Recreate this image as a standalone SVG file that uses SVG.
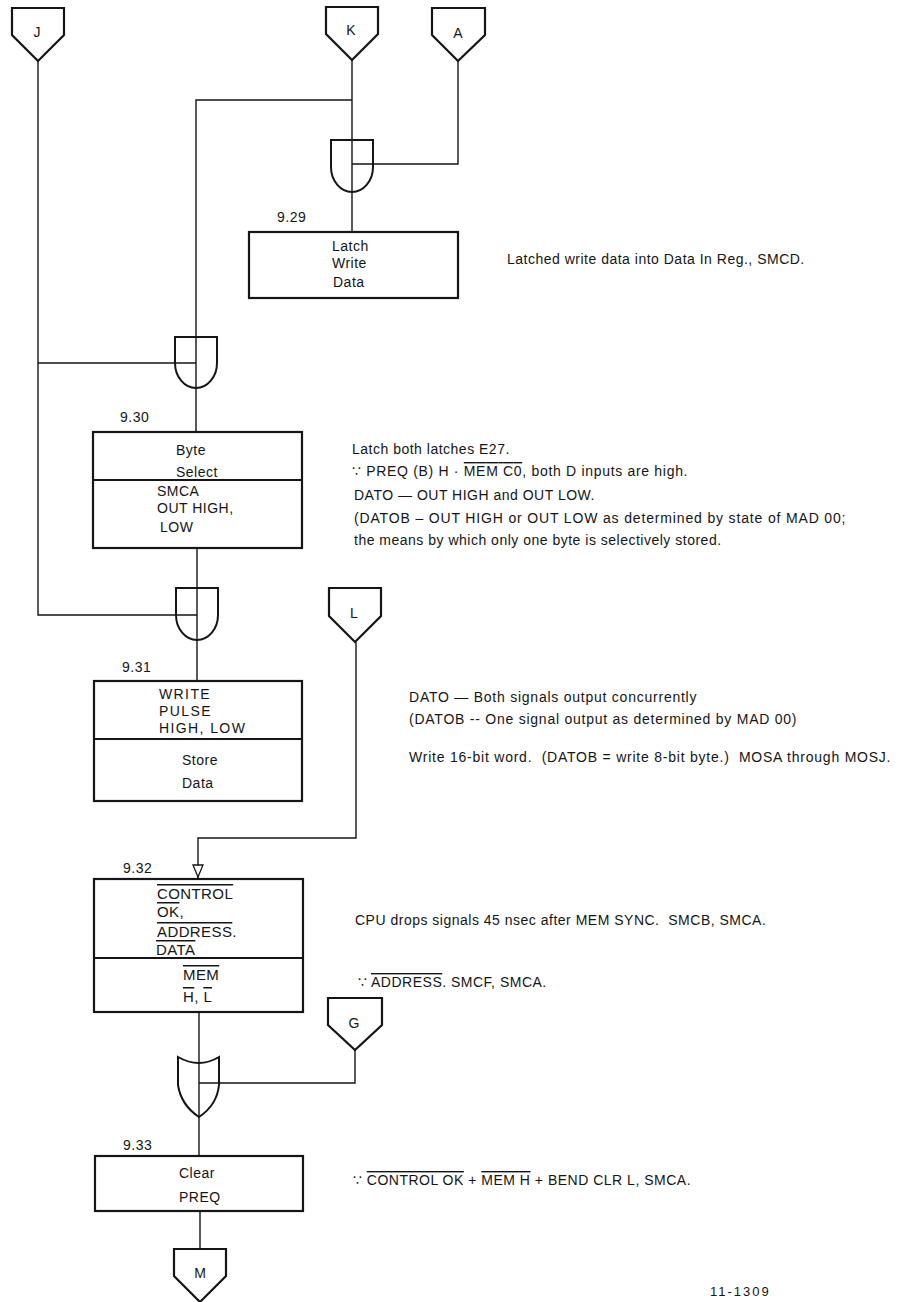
<svg xmlns="http://www.w3.org/2000/svg" width="906" height="1302" viewBox="0 0 906 1302">
<style>
.bg{fill:#ffffff}
.box{fill:#ffffff;stroke:#151515;stroke-width:2.2}
.div{stroke:#151515;stroke-width:2}
.off{fill:#ffffff;stroke:#151515;stroke-width:2.2;stroke-linejoin:miter}
.gate{fill:#ffffff;stroke:#151515;stroke-width:2}
.wire{fill:none;stroke:#151515;stroke-width:1.4}
.arr{fill:#ffffff;stroke:#151515;stroke-width:1.3}
text{font-family:"Liberation Sans",Arial,"DejaVu Sans",sans-serif;fill:#151515}
.lbl{font-size:14px;text-anchor:middle}
.num{font-size:14px;letter-spacing:0.5px}
.bt{font-size:14px;letter-spacing:0.5px}
.bw{font-size:14px;letter-spacing:1.4px}
.b32{font-size:15px;letter-spacing:0.4px}
.note{font-size:14px;letter-spacing:0.5px}
.ov{text-decoration:overline}
.id{font-size:13px;letter-spacing:2px}
</style>
<rect class="bg" x="0" y="0" width="906" height="1302"/>

<g id="nodes">
  <g id="conn-J">
    <polygon class="off" points="12,8 64,8 64,35 38,61 12,35"/>
    <text class="lbl" x="37" y="37">J</text>
  </g>
  <g id="conn-K">
    <polygon class="off" points="326,7 378,7 378,34 352,60 326,34"/>
    <text class="lbl" x="351" y="35">K</text>
  </g>
  <g id="conn-A">
    <polygon class="off" points="432,8 485,8 485,35 458,61 432,35"/>
    <text class="lbl" x="458" y="38">A</text>
  </g>

  <g id="gate-1">
    <path class="gate" d="M331,140 H373 V167 A21,25 0 0 1 331,167 Z"/>
  </g>

  <g id="step-9-29">
    <text class="num" x="277" y="222">9.29</text>
    <rect class="box" x="249" y="232" width="209" height="66"/>
    <text class="bt" x="332" y="251">Latch</text>
    <text class="bt" x="332" y="268">Write</text>
    <text class="bt" x="333" y="287">Data</text>
  </g>

  <g id="gate-2">
    <path class="gate" d="M175,337 H217 V363 A21,25 0 0 1 175,363 Z"/>
  </g>

  <g id="step-9-30">
    <text class="num" x="120" y="422">9.30</text>
    <rect class="box" x="93" y="432" width="209" height="116"/>
    <line class="div" x1="93" y1="480" x2="302" y2="480"/>
    <text class="bt" x="176" y="455">Byte</text>
    <text class="bt" x="176" y="477">Select</text>
    <text class="bt" x="157" y="496">SMCA</text>
    <text class="bt" x="157" y="513">OUT HIGH,</text>
    <text class="bt" x="160" y="532">LOW</text>
  </g>

  <g id="gate-3">
    <path class="gate" d="M176,588 H218 V615 A21,25 0 0 1 176,615 Z"/>
  </g>

  <g id="conn-L">
    <polygon class="off" points="329,588 381,588 381,616 355,642 329,616"/>
    <text class="lbl" x="354" y="618">L</text>
  </g>

  <g id="step-9-31">
    <text class="num" x="122" y="672">9.31</text>
    <rect class="box" x="94" y="681" width="208" height="120"/>
    <line class="div" x1="94" y1="739" x2="302" y2="739"/>
    <text class="bw" x="159" y="699">WRITE</text>
    <text class="bw" x="159" y="716">PULSE</text>
    <text class="bw" x="159" y="733">HIGH, LOW</text>
    <text class="bt" x="182" y="765">Store</text>
    <text class="bt" x="182" y="788">Data</text>
  </g>

  <g id="step-9-32">
    <text class="num" x="123" y="873">9.32</text>
    <rect class="box" x="94" y="879" width="209" height="133"/>
    <line class="div" x1="94" y1="958" x2="303" y2="958"/>
    <text class="b32" x="157" y="899"><tspan class="ov">CONTROL</tspan></text>
    <text class="b32" x="157" y="917"><tspan class="ov">OK</tspan>,</text>
    <text class="b32" x="157" y="937"><tspan class="ov">ADDRESS</tspan>.</text>
    <text class="b32" x="156" y="955"><tspan class="ov">DATA</tspan></text>
    <text class="b32" x="183" y="980"><tspan class="ov">MEM</tspan></text>
    <text class="b32" x="183" y="1002"><tspan class="ov">H</tspan>, <tspan class="ov">L</tspan></text>
  </g>

  <g id="conn-G">
    <polygon class="off" points="328,998 382,998 382,1025 355,1050 328,1025"/>
    <text class="lbl" x="354" y="1028">G</text>
  </g>

  <g id="gate-or">
    <path class="gate" d="M178,1057 Q199,1069 219,1057 L219,1085 Q217,1105 199,1117 Q181,1105 178,1085 Z"/>
  </g>

  <g id="step-9-33">
    <text class="num" x="123" y="1150">9.33</text>
    <rect class="box" x="95" y="1156" width="208" height="55"/>
    <text class="bt" x="179" y="1178">Clear</text>
    <text class="bt" x="179" y="1202">PREQ</text>
  </g>

  <g id="conn-M">
    <polygon class="off" points="174,1249 226,1249 226,1276 200,1302 174,1276"/>
    <text class="lbl" x="200" y="1278">M</text>
  </g>
</g>

<g id="connectors">
  <line class="wire" x1="352" y1="60" x2="352" y2="232"/>
  <polyline class="wire" points="458,61 458,164 352,164"/>
  <polyline class="wire" points="352,100 196,100 196,432"/>
  <polyline class="wire" points="38,61 38,615 197,615"/>
  <line class="wire" x1="38" y1="363" x2="196" y2="363"/>
  <line class="wire" x1="197" y1="548" x2="197" y2="681"/>
  <polyline class="wire" points="356,642 356,838 198,838 198,879"/>
  <polygon class="arr" points="193,865 203,865 198,877"/>
  <line class="wire" x1="199" y1="1012" x2="199" y2="1156"/>
  <polyline class="wire" points="355,1050 355,1083 199,1083"/>
  <line class="wire" x1="200" y1="1211" x2="200" y2="1249"/>
</g>

<g id="notes">
  <text class="note" x="507" y="264">Latched write data into Data In Reg., SMCD.</text>
  <text class="note" x="352" y="454">Latch both latches E27.</text>
  <text class="note" x="352" y="476" textLength="336">∵ PREQ (B) H · <tspan class="ov">MEM C0</tspan>, both D inputs are high.</text>
  <text class="note" x="354" y="500">DATO — OUT HIGH and OUT LOW.</text>
  <text class="note" x="354" y="523" textLength="492">(DATOB – OUT HIGH or OUT LOW as determined by state of MAD 00;</text>
  <text class="note" x="354" y="545">the means by which only one byte is selectively stored.</text>
  <text class="note" x="409" y="702" textLength="288">DATO — Both signals output concurrently</text>
  <text class="note" x="409" y="724" textLength="388">(DATOB -- One signal output as determined by MAD 00)</text>
  <text class="note" x="409" y="762" textLength="482" xml:space="preserve">Write 16-bit word.  (DATOB = write 8-bit byte.)  MOSA through MOSJ.</text>
  <text class="note" x="355" y="925" xml:space="preserve">CPU drops signals 45 nsec after MEM SYNC.  SMCB, SMCA.</text>
  <text class="note" x="358" y="987">∵ <tspan class="ov">ADDRESS</tspan>. SMCF, SMCA.</text>
  <text class="note" x="353" y="1185">∵ <tspan class="ov">CONTROL OK</tspan> + <tspan class="ov">MEM H</tspan> + BEND CLR L, SMCA.</text>
  <text class="id" x="710" y="1296">11-1309</text>
</g>
</svg>
